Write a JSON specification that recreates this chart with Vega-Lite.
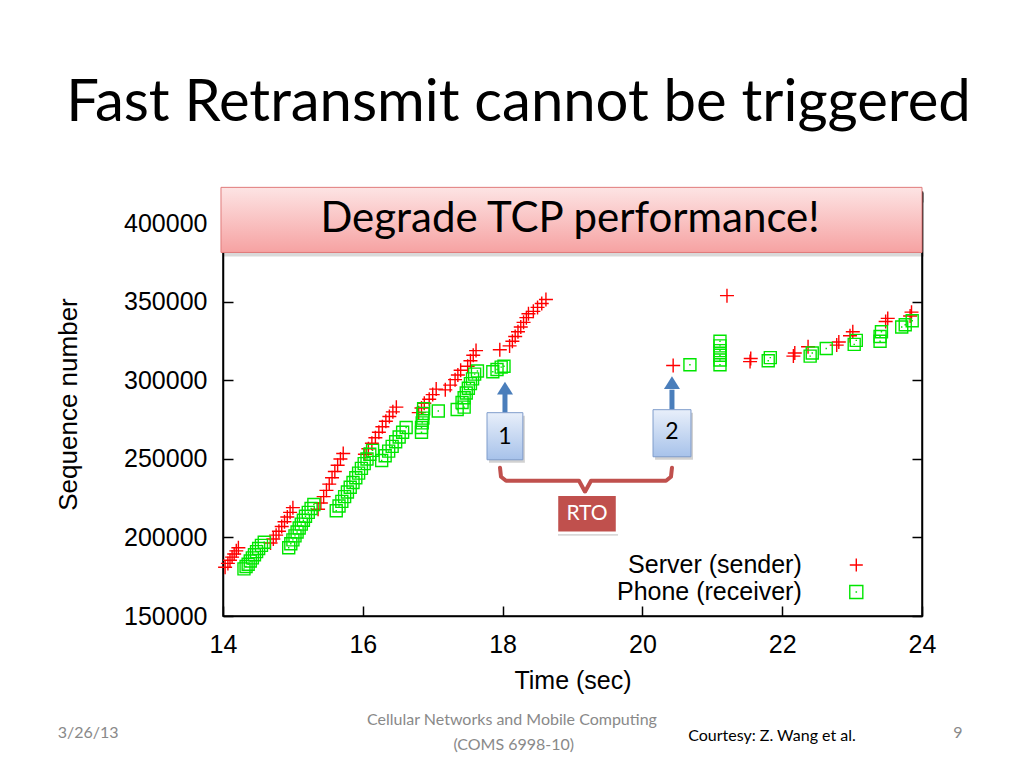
{
  "$schema": "https://vega.github.io/schema/vega-lite/v6.json",
  "width": 699,
  "height": 424,
  "autosize": {"type": "none"},
  "padding": {"left": 223, "top": 192, "right": 102, "bottom": 152},
  "background": "white",
  "title": {"text": "Fast Retransmit cannot be triggered", "font": "Lato", "fontSize": 58, "fontWeight": "normal", "color": "black", "anchor": "middle", "frame": "group", "dx": -54, "offset": 8, "baseline": "alphabetic"},
  "config": {"view": {"stroke": "black", "strokeWidth": 1.5}},
  "resolve": {"axis": {"x": "independent", "y": "independent"}},
  "datasets": {
    "sender": [
      {"t":14.03,"seq":181000},{"t":14.07,"seq":183500},{"t":14.10,"seq":185500},{"t":14.13,"seq":187500},{"t":14.16,"seq":189500},{"t":14.19,"seq":191500},{"t":14.22,"seq":193500},
      {"t":14.68,"seq":196500},{"t":14.72,"seq":199000},{"t":14.76,"seq":201500},{"t":14.80,"seq":204000},{"t":14.84,"seq":207000},{"t":14.88,"seq":210000},{"t":14.92,"seq":213000},{"t":14.96,"seq":216000},{"t":15.00,"seq":219000},
      {"t":15.36,"seq":218000},{"t":15.40,"seq":222000},{"t":15.44,"seq":226000},{"t":15.48,"seq":230000},{"t":15.52,"seq":234000},{"t":15.56,"seq":238000},{"t":15.60,"seq":242000},{"t":15.64,"seq":246000},{"t":15.68,"seq":250000},{"t":15.72,"seq":253500},
      {"t":16.03,"seq":253000},{"t":16.08,"seq":256500},{"t":16.13,"seq":260000},{"t":16.18,"seq":263500},{"t":16.23,"seq":267000},{"t":16.28,"seq":270500},{"t":16.33,"seq":274000},{"t":16.38,"seq":277000},{"t":16.43,"seq":280000},{"t":16.48,"seq":283000},
      {"t":16.80,"seq":279500},{"t":16.84,"seq":282500},{"t":16.88,"seq":285500},{"t":16.95,"seq":288000},{"t":17.00,"seq":291000},{"t":17.05,"seq":294500},
      {"t":17.18,"seq":294000},{"t":17.25,"seq":297000},{"t":17.32,"seq":300500},{"t":17.36,"seq":303500},{"t":17.40,"seq":306500},{"t":17.50,"seq":309000},{"t":17.54,"seq":312500},{"t":17.58,"seq":316000},{"t":17.62,"seq":319000},
      {"t":17.96,"seq":319500},
      {"t":18.10,"seq":322000},{"t":18.14,"seq":325000},{"t":18.18,"seq":328000},{"t":18.22,"seq":331000},{"t":18.26,"seq":334000},{"t":18.30,"seq":337000},{"t":18.34,"seq":340000},{"t":18.37,"seq":342500},
      {"t":18.44,"seq":344000},{"t":18.50,"seq":346500},{"t":18.56,"seq":349000},{"t":18.62,"seq":351500},
      {"t":20.44,"seq":309500},{"t":21.21,"seq":354000},{"t":21.54,"seq":312000},{"t":21.55,"seq":314000},{"t":22.16,"seq":315500},{"t":22.18,"seq":317500},{"t":22.37,"seq":321500},{"t":22.78,"seq":322500},{"t":22.81,"seq":324500},{"t":22.97,"seq":328500},{"t":23.01,"seq":331000},{"t":23.48,"seq":337500},{"t":23.51,"seq":339500},{"t":23.83,"seq":341000},{"t":23.85,"seq":343500}
    ],
    "receiver": [
      {"t":14.30,"seq":180000},{"t":14.33,"seq":181500},{"t":14.36,"seq":183000},{"t":14.39,"seq":185000},{"t":14.42,"seq":187000},{"t":14.45,"seq":189000},{"t":14.48,"seq":191000},{"t":14.51,"seq":193000},{"t":14.55,"seq":195000},{"t":14.59,"seq":197000},
      {"t":14.94,"seq":193500},{"t":14.97,"seq":196000},{"t":15.00,"seq":198500},{"t":15.03,"seq":201000},{"t":15.06,"seq":203500},{"t":15.09,"seq":206000},{"t":15.12,"seq":208500},{"t":15.15,"seq":211000},{"t":15.18,"seq":213500},{"t":15.22,"seq":216000},{"t":15.26,"seq":218500},{"t":15.30,"seq":221000},
      {"t":15.62,"seq":217000},{"t":15.66,"seq":220000},{"t":15.70,"seq":223000},{"t":15.74,"seq":226000},{"t":15.78,"seq":229000},{"t":15.82,"seq":232000},{"t":15.86,"seq":235000},{"t":15.90,"seq":238000},{"t":15.94,"seq":241000},{"t":15.98,"seq":244000},{"t":16.02,"seq":247000},{"t":16.06,"seq":250000},{"t":16.10,"seq":253000},{"t":16.14,"seq":255500},
      {"t":16.27,"seq":249000},{"t":16.32,"seq":252000},{"t":16.37,"seq":255000},{"t":16.42,"seq":258000},{"t":16.47,"seq":261000},{"t":16.52,"seq":264000},{"t":16.57,"seq":267000},{"t":16.62,"seq":270000},
      {"t":16.84,"seq":267000},{"t":16.84,"seq":270000},{"t":16.85,"seq":273000},{"t":16.86,"seq":276000},{"t":16.86,"seq":279000},{"t":16.87,"seq":282000},
      {"t":17.08,"seq":280500},
      {"t":17.35,"seq":281500},{"t":17.45,"seq":283000},{"t":17.42,"seq":286000},{"t":17.45,"seq":289000},{"t":17.48,"seq":292000},{"t":17.51,"seq":295000},{"t":17.54,"seq":298000},{"t":17.57,"seq":301000},{"t":17.60,"seq":304000},{"t":17.64,"seq":306000},
      {"t":17.86,"seq":305500},{"t":17.92,"seq":307000},{"t":17.98,"seq":308500},{"t":18.02,"seq":309000},
      {"t":20.68,"seq":310000},{"t":21.11,"seq":310000},{"t":21.11,"seq":313000},{"t":21.11,"seq":316000},{"t":21.11,"seq":319000},{"t":21.11,"seq":322000},{"t":21.11,"seq":325000},{"t":21.80,"seq":312500},{"t":21.83,"seq":314500},{"t":22.40,"seq":315500},{"t":22.43,"seq":317500},{"t":22.63,"seq":320300},{"t":23.03,"seq":323000},{"t":23.06,"seq":325500},{"t":23.40,"seq":325000},{"t":23.40,"seq":328000},{"t":23.42,"seq":331000},{"t":23.71,"seq":334000},{"t":23.76,"seq":335500},{"t":23.86,"seq":338000}
    ],
    "legend": [
      {"label": "Server (sender)", "lx": 22.28, "sx": 23.06, "ly": 182500},
      {"label": "Phone (receiver)", "lx": 22.28, "sx": 23.06, "ly": 165300}
    ],
    "pink": [{"x": 13.971, "x2": 24.0, "y": 422960, "y2": 381500, "tx": 18.964, "ty": 402550, "label": "Degrade TCP performance!"}],
    "boxes": [
      {"x": 17.777, "x2": 18.29, "y": 279470, "y2": 249490, "tx": 18.034, "ty": 264160, "label": "1", "ay": 279470, "ay2": 292220, "hy": 295090},
      {"x": 20.152, "x2": 20.695, "y": 281380, "y2": 251400, "tx": 20.423, "ty": 267350, "label": "2", "ay": 281380, "ay2": 294130, "hy": 298600}
    ],
    "brace": [
      {"o": 1, "bx": 17.963, "by": 244388},
      {"o": 2, "bx": 17.977, "by": 238649},
      {"o": 3, "bx": 18.049, "by": 236098},
      {"o": 4, "bx": 19.093, "by": 236098},
      {"o": 5, "bx": 19.179, "by": 229082},
      {"o": 6, "bx": 19.265, "by": 236098},
      {"o": 7, "bx": 20.338, "by": 236098},
      {"o": 8, "bx": 20.409, "by": 238649},
      {"o": 9, "bx": 20.423, "by": 244388}
    ],
    "rto": [{"x": 18.778, "x2": 19.637, "y": 227170, "y2": 202934, "tx": 19.207, "ty": 215050, "label": "RTO"}],
    "footer": [
      {"label": "3/26/13", "fx": 12.07, "fy": 75400},
      {"label": "Cellular Networks and Mobile Computing", "fx": 18.134, "fy": 83700},
      {"label": "(COMS 6998-10)", "fx": 18.16, "fy": 67700},
      {"label": "9", "fx": 24.515, "fy": 75400}
    ],
    "credit": [{"label": "Courtesy: Z. Wang et al.", "fx": 21.854, "fy": 73500}]
  },
  "layer": [
    {
      "data": {"name": "sender"},
      "mark": {"type": "point", "filled": false, "strokeWidth": 1.4, "size": 196, "opacity": 1},
      "encoding": {
        "x": {"field": "t", "type": "quantitative", "scale": {"domain": [14, 24], "nice": false, "zero": false},
          "axis": {"orient": "bottom", "values": [14, 16, 18, 20, 22, 24], "format": "d", "title": "Time (sec)", "grid": false, "labelFlush": false, "tickSize": -10, "tickColor": "black", "tickWidth": 1.5, "domainColor": "black", "domainWidth": 1.5, "labelPadding": 26, "labelFont": "Liberation Sans", "labelFontSize": 25, "labelColor": "black", "titleFont": "Liberation Sans", "titleFontSize": 25, "titleFontWeight": "normal", "titleColor": "black", "titlePadding": 11}},
        "y": {"field": "seq", "type": "quantitative", "scale": {"domain": [150000, 420000], "nice": false, "zero": false},
          "axis": {"orient": "left", "values": [150000, 200000, 250000, 300000, 350000, 400000], "format": "d", "title": "Sequence number", "grid": false, "labelFlush": false, "tickSize": -10, "tickColor": "black", "tickWidth": 1.5, "domainColor": "black", "domainWidth": 1.5, "labelPadding": 26, "labelFont": "Liberation Sans", "labelFontSize": 25, "labelColor": "black", "titleFont": "Liberation Sans", "titleFontSize": 26, "titleFontWeight": "normal", "titleColor": "black", "titlePadding": 42}},
        "color": {"datum": "Server (sender)", "type": "nominal", "scale": {"domain": ["Server (sender)", "Phone (receiver)"], "range": ["#ff0000", "#00e600"]}, "legend": null},
        "shape": {"datum": "Server (sender)", "type": "nominal", "scale": {"domain": ["Server (sender)", "Phone (receiver)"], "range": ["M-1,0H1M0,-1V1", "M-1,-1H1V1H-1ZM-0.12,0H0.12"]}, "legend": null}
      }
    },
    {
      "data": {"name": "receiver"},
      "mark": {"type": "point", "filled": false, "strokeWidth": 1.4, "size": 144, "opacity": 1},
      "encoding": {
        "x": {"field": "t", "type": "quantitative", "scale": {"domain": [14, 24], "nice": false, "zero": false},
          "axis": {"orient": "top", "values": [14, 16, 18, 20, 22, 24], "labels": false, "title": null, "grid": false, "tickSize": -10, "tickColor": "black", "tickWidth": 1.5, "domainColor": "black", "domainWidth": 1.5}},
        "y": {"field": "seq", "type": "quantitative", "scale": {"domain": [150000, 420000], "nice": false, "zero": false},
          "axis": {"orient": "right", "values": [150000, 200000, 250000, 300000, 350000, 400000], "labels": false, "title": null, "grid": false, "tickSize": -10, "tickColor": "black", "tickWidth": 1.5, "domainColor": "black", "domainWidth": 1.5}},
        "color": {"datum": "Phone (receiver)", "type": "nominal", "legend": null},
        "shape": {"datum": "Phone (receiver)", "type": "nominal", "legend": null}
      }
    },
    {
      "data": {"name": "legend"},
      "mark": {"type": "text", "align": "right", "baseline": "middle", "font": "Liberation Sans", "fontSize": 25, "color": "black"},
      "encoding": {
        "x": {"field": "lx", "type": "quantitative", "scale": {"domain": [14, 24], "nice": false, "zero": false}, "axis": null},
        "y": {"field": "ly", "type": "quantitative", "scale": {"domain": [150000, 420000], "nice": false, "zero": false}, "axis": null},
        "text": {"field": "label"}
      }
    },
    {
      "data": {"name": "legend"},
      "mark": {"type": "point", "filled": false, "strokeWidth": 1.4, "size": 170, "opacity": 1},
      "encoding": {
        "x": {"field": "sx", "type": "quantitative", "scale": {"domain": [14, 24], "nice": false, "zero": false}, "axis": null},
        "y": {"field": "ly", "type": "quantitative", "scale": {"domain": [150000, 420000], "nice": false, "zero": false}, "axis": null},
        "color": {"field": "label", "type": "nominal", "legend": null},
        "shape": {"field": "label", "type": "nominal", "legend": null}
      }
    },
    {
      "data": {"name": "boxes"},
      "mark": {"type": "rule", "color": "#4a7ebb", "strokeWidth": 5},
      "encoding": {
        "x": {"field": "tx", "type": "quantitative", "scale": {"domain": [14, 24], "nice": false, "zero": false}, "axis": null},
        "y": {"field": "ay", "type": "quantitative", "scale": {"domain": [150000, 420000], "nice": false, "zero": false}, "axis": null},
        "y2": {"field": "ay2"}
      }
    },
    {
      "data": {"name": "boxes"},
      "mark": {"type": "point", "shape": "M-1,0.8L1,0.8L0,-0.8Z", "filled": true, "color": "#4a7ebb", "size": 256, "opacity": 1},
      "encoding": {
        "x": {"field": "tx", "type": "quantitative", "scale": {"domain": [14, 24], "nice": false, "zero": false}, "axis": null},
        "y": {"field": "hy", "type": "quantitative", "scale": {"domain": [150000, 420000], "nice": false, "zero": false}, "axis": null}
      }
    },
    {
      "data": {"name": "boxes"},
      "mark": {"type": "rect", "color": "#000000", "opacity": 0.18, "xOffset": 2, "yOffset": 3, "x2Offset": 2, "y2Offset": 3},
      "encoding": {
        "x": {"field": "x", "type": "quantitative", "scale": {"domain": [14, 24], "nice": false, "zero": false}, "axis": null},
        "x2": {"field": "x2"},
        "y": {"field": "y", "type": "quantitative", "scale": {"domain": [150000, 420000], "nice": false, "zero": false}, "axis": null},
        "y2": {"field": "y2"}
      }
    },
    {
      "data": {"name": "boxes"},
      "mark": {"type": "rect", "fill": {"gradient": "linear", "x1": 0, "y1": 0, "x2": 0, "y2": 1, "stops": [{"offset": 0, "color": "#e8effa"}, {"offset": 1, "color": "#a7c2ea"}]}, "stroke": "#7f9ccb", "strokeWidth": 1},
      "encoding": {
        "x": {"field": "x", "type": "quantitative", "scale": {"domain": [14, 24], "nice": false, "zero": false}, "axis": null},
        "x2": {"field": "x2"},
        "y": {"field": "y", "type": "quantitative", "scale": {"domain": [150000, 420000], "nice": false, "zero": false}, "axis": null},
        "y2": {"field": "y2"}
      }
    },
    {
      "data": {"name": "boxes"},
      "mark": {"type": "text", "align": "center", "baseline": "middle", "font": "Lato", "fontSize": 23, "color": "black"},
      "encoding": {
        "x": {"field": "tx", "type": "quantitative", "scale": {"domain": [14, 24], "nice": false, "zero": false}, "axis": null},
        "y": {"field": "ty", "type": "quantitative", "scale": {"domain": [150000, 420000], "nice": false, "zero": false}, "axis": null},
        "text": {"field": "label"}
      }
    },
    {
      "data": {"name": "brace"},
      "mark": {"type": "line", "color": "#c0504d", "strokeWidth": 4, "strokeJoin": "round", "strokeCap": "round"},
      "encoding": {
        "x": {"field": "bx", "type": "quantitative", "scale": {"domain": [14, 24], "nice": false, "zero": false}, "axis": null},
        "y": {"field": "by", "type": "quantitative", "scale": {"domain": [150000, 420000], "nice": false, "zero": false}, "axis": null},
        "order": {"field": "o", "type": "quantitative"}
      }
    },
    {
      "data": {"name": "rto"},
      "mark": {"type": "rect", "color": "#000000", "opacity": 0.15, "xOffset": 1, "yOffset": 3, "x2Offset": 1, "y2Offset": 3},
      "encoding": {
        "x": {"field": "x", "type": "quantitative", "scale": {"domain": [14, 24], "nice": false, "zero": false}, "axis": null},
        "x2": {"field": "x2"},
        "y": {"field": "y", "type": "quantitative", "scale": {"domain": [150000, 420000], "nice": false, "zero": false}, "axis": null},
        "y2": {"field": "y2"}
      }
    },
    {
      "data": {"name": "rto"},
      "mark": {"type": "rect", "fill": "#c0504d", "stroke": "white", "strokeWidth": 2.5},
      "encoding": {
        "x": {"field": "x", "type": "quantitative", "scale": {"domain": [14, 24], "nice": false, "zero": false}, "axis": null},
        "x2": {"field": "x2"},
        "y": {"field": "y", "type": "quantitative", "scale": {"domain": [150000, 420000], "nice": false, "zero": false}, "axis": null},
        "y2": {"field": "y2"}
      }
    },
    {
      "data": {"name": "rto"},
      "mark": {"type": "text", "align": "center", "baseline": "middle", "font": "Lato", "fontSize": 21, "color": "white"},
      "encoding": {
        "x": {"field": "tx", "type": "quantitative", "scale": {"domain": [14, 24], "nice": false, "zero": false}, "axis": null},
        "y": {"field": "ty", "type": "quantitative", "scale": {"domain": [150000, 420000], "nice": false, "zero": false}, "axis": null},
        "text": {"field": "label"}
      }
    },
    {
      "data": {"name": "pink"},
      "mark": {"type": "rect", "color": "#000000", "opacity": 0.15, "xOffset": 2, "yOffset": 4, "x2Offset": 2, "y2Offset": 4},
      "encoding": {
        "x": {"field": "x", "type": "quantitative", "scale": {"domain": [14, 24], "nice": false, "zero": false}, "axis": null},
        "x2": {"field": "x2"},
        "y": {"field": "y", "type": "quantitative", "scale": {"domain": [150000, 420000], "nice": false, "zero": false}, "axis": null},
        "y2": {"field": "y2"}
      }
    },
    {
      "data": {"name": "pink"},
      "mark": {"type": "rect", "fill": {"gradient": "linear", "x1": 0, "y1": 0, "x2": 0, "y2": 1, "stops": [{"offset": 0, "color": "#fde4e4"}, {"offset": 1, "color": "#f6a2a2"}]}, "stroke": "#e07a7a", "strokeWidth": 1},
      "encoding": {
        "x": {"field": "x", "type": "quantitative", "scale": {"domain": [14, 24], "nice": false, "zero": false}, "axis": null},
        "x2": {"field": "x2"},
        "y": {"field": "y", "type": "quantitative", "scale": {"domain": [150000, 420000], "nice": false, "zero": false}, "axis": null},
        "y2": {"field": "y2"}
      }
    },
    {
      "data": {"name": "pink"},
      "mark": {"type": "text", "align": "center", "baseline": "middle", "font": "Lato", "fontSize": 42, "color": "black"},
      "encoding": {
        "x": {"field": "tx", "type": "quantitative", "scale": {"domain": [14, 24], "nice": false, "zero": false}, "axis": null},
        "y": {"field": "ty", "type": "quantitative", "scale": {"domain": [150000, 420000], "nice": false, "zero": false}, "axis": null},
        "text": {"field": "label"}
      }
    },
    {
      "data": {"name": "footer"},
      "mark": {"type": "text", "align": "center", "baseline": "middle", "font": "Lato", "fontSize": 16, "color": "#898989"},
      "encoding": {
        "x": {"field": "fx", "type": "quantitative", "scale": {"domain": [14, 24], "nice": false, "zero": false}, "axis": null},
        "y": {"field": "fy", "type": "quantitative", "scale": {"domain": [150000, 420000], "nice": false, "zero": false}, "axis": null},
        "text": {"field": "label"}
      }
    },
    {
      "data": {"name": "credit"},
      "mark": {"type": "text", "align": "center", "baseline": "middle", "font": "Lato", "fontSize": 16, "color": "black"},
      "encoding": {
        "x": {"field": "fx", "type": "quantitative", "scale": {"domain": [14, 24], "nice": false, "zero": false}, "axis": null},
        "y": {"field": "fy", "type": "quantitative", "scale": {"domain": [150000, 420000], "nice": false, "zero": false}, "axis": null},
        "text": {"field": "label"}
      }
    }
  ]
}
